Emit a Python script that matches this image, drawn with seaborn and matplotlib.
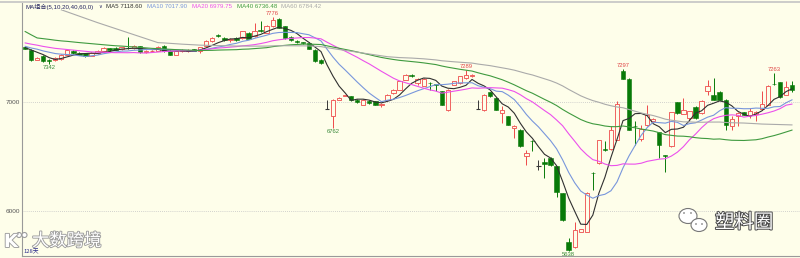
import numpy as np
import pandas as pd
import matplotlib
matplotlib.use("Agg")
import matplotlib.pyplot as plt
import seaborn as sns
from matplotlib import patheffects as pe
from matplotlib.patches import Ellipse, Circle
from matplotlib.lines import Line2D

# ---------------- data ----------------
open_px = [7500, 7477, 7385, 7422, 7378, 7378, 7392, 7431, 7468, 7450,
           7447, 7420, 7447, 7461, 7490, 7492, 7480, 7495, 7490, 7507,
           7458, 7460, 7468, 7510, 7468, 7431, 7465, 7462, 7480, 7461,
           7507, 7553, 7614, 7584, 7565, 7584, 7584, 7630, 7599, 7660,
           7630, 7691, 7758, 7691, 7593, 7555, 7545, 7538, 7477, 7385,
           6936, 6866, 7018, 7055, 7049, 7018, 6972, 7010, 7003, 6972,
           7012, 7079, 7110, 7202, 7248, 7171, 7147, 7175, 7158, 7095,
           6921, 7156, 7171, 7217, 7238, 6935, 6921, 7086, 7034, 6896,
           6866, 6759, 6743, 6499, 6640, 6407, 6447, 6484, 6407, 6163,
           5719, 5668, 5811, 5811, 6350, 6438, 6569, 6566, 6652, 7284,
           7211, 6780, 6658, 6789, 6820, 6719, 6508, 6590, 6994, 6890,
           6850, 6951, 6896, 7095, 7064, 7089, 7018, 6774, 6866, 6902,
           6881, 6890, 6933, 6972, 7165, 7177, 7064, 7150]
close_px = [7485, 7385, 7400, 7370, 7375, 7400, 7431, 7477, 7447, 7431,
            7416, 7450, 7468, 7492, 7470, 7477, 7498, 7490, 7513, 7453,
            7462, 7465, 7498, 7461, 7431, 7461, 7470, 7475, 7468, 7498,
            7553, 7584, 7599, 7562, 7572, 7562, 7645, 7578, 7645, 7645,
            7691, 7752, 7676, 7584, 7562, 7547, 7538, 7483, 7370, 7355,
            6936, 7018, 7033, 7058, 7012, 6994, 7018, 6988, 6972, 6975,
            7064, 7110, 7186, 7248, 7232, 7208, 7208, 7171, 7156, 6972,
            7110, 7186, 7232, 7248, 7242, 6935, 7064, 7049, 6927, 6927,
            6789, 6780, 6590, 6529, 6636, 6407, 6431, 6422, 6178, 5918,
            5643, 5826, 5832, 6163, 6346, 6645, 6554, 6743, 6982, 7211,
            6743, 6774, 6752, 6881, 6841, 6606, 6505, 6902, 6896, 6921,
            6912, 6850, 7003, 7147, 7018, 7018, 6789, 6841, 6896, 6881,
            6918, 6905, 6982, 7141, 7162, 7043, 7135, 7110]
high_px = [7510, 7480, 7405, 7425, 7395, 7405, 7436, 7482, 7475, 7455,
           7450, 7455, 7472, 7498, 7495, 7497, 7503, 7593, 7520, 7512,
           7470, 7472, 7505, 7515, 7472, 7465, 7478, 7480, 7485, 7503,
           7560, 7590, 7620, 7588, 7580, 7590, 7650, 7636, 7721, 7735,
           7700, 7776, 7765, 7695, 7598, 7560, 7550, 7542, 7480, 7390,
           7018, 7025, 7045, 7065, 7055, 7022, 7022, 7015, 7008, 6985,
           7070, 7116, 7192, 7255, 7255, 7215, 7214, 7180, 7162, 7100,
           7116, 7192, 7238, 7289, 7250, 7018, 7070, 7092, 7040, 6958,
           6872, 6786, 6749, 6560, 6652, 6468, 6484, 6490, 6412, 6168,
           5750, 5903, 5838, 6170, 6355, 6652, 6644, 6774, 7003, 7297,
           7215, 6820, 6789, 6972, 6847, 6725, 6512, 6908, 7000, 7034,
           6918, 6957, 7018, 7202, 7217, 7095, 7024, 6866, 6902, 6908,
           6942, 6912, 7095, 7156, 7263, 7183, 7186, 7186]
low_px = [7478, 7375, 7378, 7360, 7342, 7370, 7385, 7425, 7440, 7425,
          7410, 7415, 7440, 7455, 7465, 7472, 7475, 7485, 7485, 7448,
          7445, 7452, 7462, 7455, 7425, 7425, 7455, 7452, 7462, 7445,
          7500, 7548, 7594, 7555, 7545, 7556, 7578, 7572, 7594, 7640,
          7625, 7685, 7670, 7578, 7555, 7540, 7532, 7478, 7365, 7348,
          6932, 6762, 7012, 7050, 7005, 6988, 6966, 6982, 6966, 6950,
          7005, 7072, 7104, 7196, 7226, 7150, 7140, 7110, 7095, 6966,
          6915, 7150, 7165, 7210, 7230, 6930, 6915, 7043, 6920, 6805,
          6783, 6667, 6584, 6422, 6545, 6376, 6300, 6415, 6132, 5912,
          5638, 5660, 5805, 5805, 6193, 6432, 6548, 6560, 6645, 7205,
          6737, 6606, 6640, 6774, 6814, 6484, 6361, 6584, 6890, 6884,
          6820, 6844, 6890, 7064, 7012, 7012, 6743, 6743, 6774, 6875,
          6850, 6820, 6927, 6966, 7150, 7037, 7058, 7089]
# closes before the visible window (only seed the moving averages)
prior_close = [8700, 8680, 8690, 8650, 8660, 8640, 8630, 8650, 8620, 8610, 8630,
               8600, 8590, 8610, 8580, 8570, 8590, 8560, 8580, 8570, 8600, 8560,
               7620, 7660, 7700, 7680, 7650, 7690, 7640, 7620, 7660, 7700, 7670,
               7630, 7650, 7620, 7660, 7640, 7630, 7670,
               7610, 7590, 7600, 7560, 7570, 7540, 7580, 7550, 7560, 7530,
               7540, 7510, 7530, 7500, 7515,
               7490, 7505, 7480, 7515]
ma_periods = [5, 10, 20, 40, 60]
ma_header_values = ["7118.60", "7017.90", "6979.75", "6736.48", "6784.42"]
high_marks = [41, 73, 99, 124]
low_marks = [4, 51, 90]
y_ticks = [6000, 7000]
y_tick_labels = ["6000", "7000"]
day_count_label = "128天"

# ---------------- style ----------------
BG = "#fefeea"
RED = "#ee4a4a"
GREEN = "#087a08"
DOJI = "#383838"
sns.set_theme(style="white", rc={"axes.facecolor": BG, "figure.facecolor": BG})
plt.rcParams["font.family"] = ["Liberation Sans", "Noto Sans CJK SC", "DejaVu Sans"]
CJK = ["Noto Sans CJK SC", "DejaVu Sans"]

FW, FH = 800, 258
fig = plt.figure(figsize=(FW / 100, FH / 100), dpi=100, facecolor=BG)
ax = fig.add_axes([22 / FW, 2 / FH, 778 / FW, 253 / FH])
ax.set_facecolor(BG)

n = len(close_px)
idx = np.arange(n)
o = np.array(open_px, float)
c = np.array(close_px, float)
h = np.array(high_px, float)
l = np.array(low_px, float)
up = c > o
dn = c < o
dj = c == o
W = 0.72

# wicks
ax.vlines(idx[dn], l[dn], h[dn], color=GREEN, lw=0.7, zorder=2)
ax.vlines(idx[up], l[up], o[up], color=RED, lw=0.7, zorder=2)
ax.vlines(idx[up], c[up], h[up], color=RED, lw=0.7, zorder=2)
ax.vlines(idx[dj], l[dj], h[dj], color=DOJI, lw=0.7, zorder=2)
# bodies
ax.bar(idx[up], (c - o)[up], bottom=o[up], width=W, facecolor=BG,
       edgecolor=RED, linewidth=0.6, zorder=3)
ax.bar(idx[dn], (o - c)[dn], bottom=c[dn], width=W, facecolor=GREEN,
       edgecolor=GREEN, linewidth=0.4, zorder=3)
ax.hlines(c[dj], idx[dj] - W / 2, idx[dj] + W / 2, color=DOJI, lw=0.8, zorder=3)

# moving averages
full = pd.Series(np.r_[prior_close, close_px], dtype=float)
names = [f"MA{p}" for p in ma_periods]
ma = {nm: full.rolling(p).mean().to_numpy()[-n:] for nm, p in zip(names, ma_periods)}
long = pd.DataFrame({
    "day": np.tile(idx, len(names)),
    "value": np.concatenate([ma[k] for k in names]),
    "series": np.repeat(names, n),
})
palette = {"MA5": "#303030", "MA10": "#7896dc", "MA20": "#ec50ec",
           "MA40": "#3f9a3f", "MA60": "#aaaaaa"}
sns.lineplot(data=long, x="day", y="value", hue="series", hue_order=names,
             palette=palette, linewidth=0.8, legend=False, ax=ax,
             estimator=None, sort=False, zorder=4)

# high / low marks
for i in high_marks:
    ax.annotate(f"{int(h[i])}", xy=(i, h[i]), xytext=(0, 0.8), textcoords="offset points",
                ha="center", va="bottom", fontsize=4.2, color="#e04848", zorder=6)
for i in low_marks:
    ax.annotate(f"{int(l[i])}", xy=(i, l[i]), xytext=(0, -0.8), textcoords="offset points",
                ha="center", va="top", fontsize=4.2, color="#3a8a3a", zorder=6)

# axes cosmetics
ax.set_xlim(-0.5, 128.3)
ax.set_ylim(5588, 7903)
ax.set_xticks([])
ax.set_yticks(y_ticks)
ax.set_yticklabels(y_tick_labels)
ax.tick_params(axis="y", length=0, pad=1.5, labelsize=4.6, labelcolor="#555555")
ax.yaxis.grid(True, color="#c4c4c4", linestyle=(0, (1, 1.5)), lw=0.6)
ax.set_axisbelow(True)
ax.set_xlabel("")
ax.set_ylabel("")
for s in ["top", "right"]:
    ax.spines[s].set_visible(False)
for s in ["left", "bottom"]:
    ax.spines[s].set_color("#9a9a9a")
    ax.spines[s].set_linewidth(0.8)

fig.add_artist(Line2D([0, 1], [1 - 1.5 / FH] * 2, transform=fig.transFigure,
                      color="#c4c4c4", lw=1.2))

def fx(x):
    return x / FW

def fy(y):
    return 1 - y / FH

hb = dict(facecolor=BG, edgecolor="none", pad=0.4)
fig.text(fx(25), fy(6.5), "MA组合(5,10,20,40,60,0)", fontsize=4.4, color="#23235f",
         va="center", ha="left", bbox=hb, zorder=10)
fig.text(fx(98.5), fy(7), "∨", fontsize=3.6, color="#23235f", va="center", ha="left",
         family=["DejaVu Sans"], zorder=10)
head_x = [106, 147, 192, 237, 281]
for nm, val, xx in zip(names, ma_header_values, head_x):
    fig.text(fx(xx), fy(6.5), f"{nm} {val}", fontsize=4.4, color=palette[nm],
             va="center", ha="left", bbox=hb, zorder=10)

fig.text(fx(23), fy(251.5), day_count_label, fontsize=4.2, color="#2b2b8b",
         va="center", ha="left", family=CJK, zorder=10)

# watermarks
stroke_a = [pe.withStroke(linewidth=1.3, foreground="#9c9c9c")]
fig.text(fx(32), fy(241), "大数跨境", fontsize=12.5, color="white", family=CJK,
         va="center", ha="left", path_effects=stroke_a, zorder=10)
fig.text(fx(4), fy(242), "K", fontsize=13, color="white", family=["DejaVu Sans"],
         fontweight="bold", va="center", ha="left", path_effects=stroke_a, zorder=10)
for cx in (19, 24.5):
    fig.add_artist(Ellipse((fx(cx), fy(235)), 5 / FW, 5 / FH, transform=fig.transFigure,
                           facecolor="white", edgecolor="#9c9c9c", lw=0.8, zorder=10))

stroke_b = [pe.withStroke(linewidth=1.4, foreground="#4a4a4a")]
fig.text(fx(715), fy(222.5), "塑料圈", fontsize=14, color="white", family=CJK,
         va="center", ha="left", path_effects=stroke_b, zorder=10)
fig.add_artist(Ellipse((fx(688), fy(216)), 18 / FW, 15 / FH, transform=fig.transFigure,
                       facecolor="white", edgecolor="#777777", lw=0.8, zorder=10))
fig.add_artist(Ellipse((fx(699), fy(225)), 16 / FW, 13 / FH, transform=fig.transFigure,
                       facecolor="white", edgecolor="#777777", lw=0.8, zorder=11))
for (dx, dy) in [(684, 213), (691, 213), (696, 224), (702, 224)]:
    fig.add_artist(Ellipse((fx(dx), fy(dy)), 1.6 / FW, 1.6 / FH, transform=fig.transFigure,
                           facecolor="#666666", edgecolor="none", zorder=12))

fig.savefig("out.png", dpi=100, facecolor=BG)
